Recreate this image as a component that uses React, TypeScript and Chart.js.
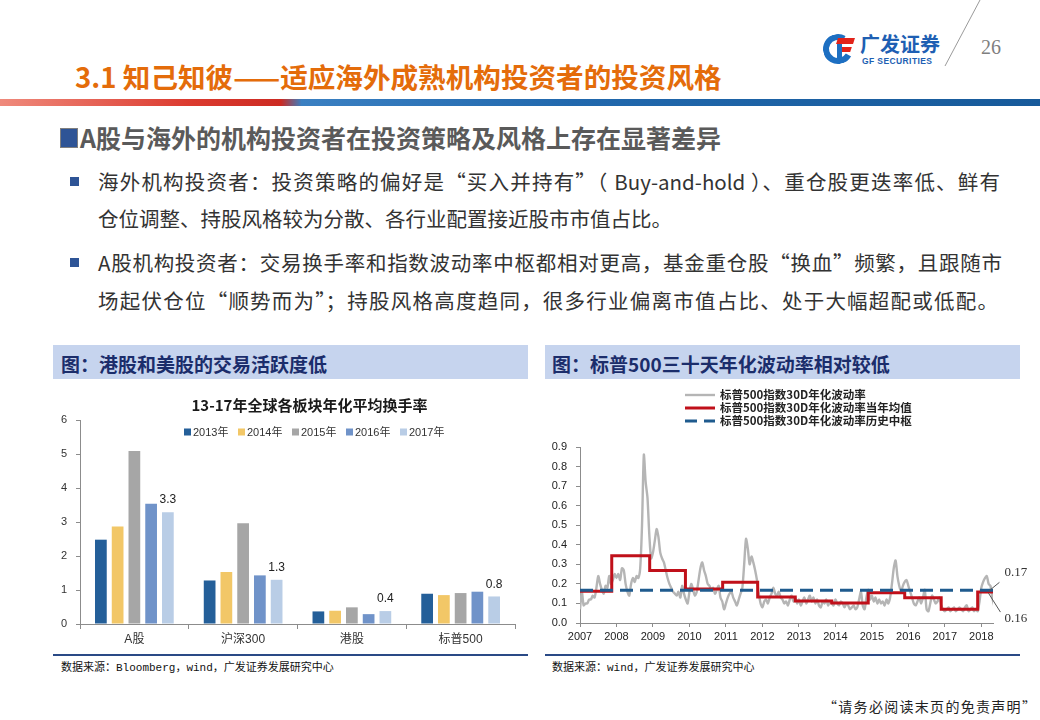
import React, { useEffect, useRef } from "react";
import { Chart, registerables } from "chart.js";

Chart.register(...registerables);

// ---------- Left chart data ----------
const turnoverTitle = "13-17年全球各板块年化平均换手率";
const turnoverCategories = ["A股", "沪深300", "港股", "标普500"];
const turnoverYears = ["2013年", "2014年", "2015年", "2016年", "2017年"];
const turnover2013 = [2.48, 1.28, 0.37, 0.89];
const turnover2014 = [2.87, 1.53, 0.39, 0.85];
const turnover2015 = [5.09, 2.96, 0.49, 0.91];
const turnover2016 = [3.54, 1.43, 0.29, 0.95];
const turnover2017 = [3.29, 1.3, 0.38, 0.81];
const turnoverTicks = [0, 1, 2, 3, 4, 5, 6];

// ---------- Right chart data ----------
const volLabels = [
  "标普500指数30D年化波动率",
  "标普500指数30D年化波动率当年均值",
  "标普500指数30D年化波动率历史中枢",
];
const volStartYear = 2007;
const volStepYears = 0.05;
const vol2007 = [0.07, 0.16, 0.09, 0.1, 0.1, 0.12, 0.12, 0.14, 0.13, 0.18, 0.24, 0.2, 0.17, 0.15, 0.19, 0.18, 0.24, 0.2, 0.22, 0.25];
const vol2008 = [0.23, 0.25, 0.22, 0.28, 0.27, 0.2, 0.16, 0.14, 0.2, 0.23, 0.21, 0.24, 0.23, 0.28, 0.5, 0.86, 0.72, 0.64, 0.45, 0.33];
const vol2009 = [0.36, 0.42, 0.48, 0.44, 0.36, 0.33, 0.31, 0.27, 0.23, 0.2, 0.18, 0.16, 0.15, 0.14, 0.16, 0.13, 0.19, 0.15, 0.12, 0.1];
const vol2010 = [0.16, 0.2, 0.17, 0.14, 0.16, 0.22, 0.28, 0.31, 0.27, 0.24, 0.2, 0.19, 0.17, 0.18, 0.15, 0.17, 0.19, 0.13, 0.11, 0.07];
const vol2011 = [0.1, 0.13, 0.15, 0.16, 0.13, 0.11, 0.09, 0.12, 0.15, 0.18, 0.3, 0.43, 0.38, 0.3, 0.34, 0.31, 0.27, 0.22, 0.15, 0.1];
const vol2012 = [0.08, 0.11, 0.12, 0.1, 0.13, 0.15, 0.18, 0.15, 0.14, 0.16, 0.13, 0.12, 0.1, 0.11, 0.09, 0.12, 0.14, 0.11, 0.13, 0.1];
const vol2013 = [0.12, 0.09, 0.11, 0.13, 0.1, 0.12, 0.14, 0.11, 0.13, 0.1, 0.12, 0.09, 0.08, 0.11, 0.1, 0.12, 0.09, 0.11, 0.1, 0.09];
const vol2014 = [0.12, 0.1, 0.09, 0.11, 0.1, 0.08, 0.1, 0.09, 0.07, 0.08, 0.09, 0.07, 0.08, 0.12, 0.16, 0.09, 0.07, 0.13, 0.17, 0.12];
const vol2015 = [0.14, 0.11, 0.13, 0.1, 0.12, 0.1, 0.11, 0.09, 0.12, 0.1, 0.13, 0.2, 0.28, 0.32, 0.24, 0.19, 0.16, 0.19, 0.21, 0.22];
const vol2016 = [0.19, 0.16, 0.13, 0.1, 0.09, 0.11, 0.13, 0.1, 0.13, 0.17, 0.07, 0.06, 0.1, 0.14, 0.12, 0.1, 0.11, 0.13, 0.09, 0.07];
const vol2017 = [0.06, 0.07, 0.08, 0.06, 0.07, 0.08, 0.06, 0.07, 0.08, 0.07, 0.06, 0.08, 0.09, 0.06, 0.07, 0.08, 0.06, 0.07, 0.06, 0.11];
const vol2018 = [0.18, 0.21, 0.23, 0.24, 0.2, 0.19, 0.13, 0.09];

const yearMeanStarts = [2007.0, 2007.87, 2008.91, 2009.89, 2010.91, 2011.87, 2012.9, 2013.9, 2014.9, 2015.9, 2016.9, 2017.9, 2018.32];
const yearMeanValues = [0.162, 0.344, 0.269, 0.174, 0.208, 0.133, 0.112, 0.102, 0.155, 0.129, 0.07, 0.158, 0.158];
const historicalCenter = 0.167;
const volXMin = 2007;
const volXMax = 2018.32;
const volXTicks = [2007, 2008, 2009, 2010, 2011, 2012, 2013, 2014, 2015, 2016, 2017, 2018];
const volYTicks = [0, 0.1, 0.2, 0.3, 0.4, 0.5, 0.6, 0.7, 0.8, 0.9];

const SANS = "'Liberation Sans', Arial, 'Noto Sans CJK SC', sans-serif";
const CJK = "'Noto Sans CJK SC', 'Liberation Sans', sans-serif";

const barColors = ["#245f99", "#f2c767", "#a6a6a6", "#7093c9", "#b9cde6"];

const turnoverOverlay = {
  id: "turnoverOverlay",
  afterDraw(chart: any) {
    const { ctx } = chart;
    ctx.save();
    ctx.fillStyle = "#1a1a1a";
    ctx.font = `bold 15px ${CJK}`;
    ctx.textAlign = "center";
    ctx.textBaseline = "middle";
    ctx.fillText(turnoverTitle, chart.width / 2 + 19, 21);
    ctx.font = `11px ${SANS}`;
    ctx.textAlign = "left";
    chart.data.datasets.forEach((ds: any, i: number) => {
      const x = 131 + i * 54;
      const y = 48;
      ctx.fillStyle = ds.backgroundColor;
      ctx.fillRect(x, y - 3.5, 7, 7);
      ctx.fillStyle = "#333";
      ctx.fillText(ds.label, x + 9, y + 0.5);
    });
    const last = chart.data.datasets.length - 1;
    const meta = chart.getDatasetMeta(last);
    ctx.font = `12px ${SANS}`;
    ctx.textAlign = "center";
    ctx.fillStyle = "#222";
    meta.data.forEach((el: any, j: number) => {
      ctx.fillText(Number(chart.data.datasets[last].data[j]).toFixed(1), el.x, el.y - 12);
    });
    ctx.restore();
  },
};

const volOverlay = {
  id: "volOverlay",
  afterDraw(chart: any) {
    const { ctx } = chart;
    const xs = chart.scales.x;
    const ys = chart.scales.y;
    ctx.save();
    // legend
    const order = [2, 1, 0];
    order.forEach((dsIndex, row) => {
      const ds = chart.data.datasets[dsIndex];
      const y = 11 + row * 13;
      ctx.beginPath();
      ctx.strokeStyle = ds.borderColor;
      ctx.lineWidth = ds.borderWidth;
      ctx.setLineDash(ds.borderDash ? [12, 7] : []);
      ctx.moveTo(140, y);
      ctx.lineTo(170, y);
      ctx.stroke();
      ctx.setLineDash([]);
      ctx.fillStyle = "#222";
      ctx.font = `bold 11.5px ${CJK}`;
      ctx.textAlign = "left";
      ctx.textBaseline = "middle";
      ctx.fillText(ds.label, 175, y);
    });
    // annotations
    const px = xs.getPixelForValue(2018.25);
    const pyTop = ys.getPixelForValue(historicalCenter);
    const pyBot = ys.getPixelForValue(yearMeanValues[yearMeanValues.length - 1]);
    ctx.strokeStyle = "#555";
    ctx.lineWidth = 1;
    ctx.beginPath();
    ctx.moveTo(px - 2, pyTop + 1);
    ctx.lineTo(px + 9, pyTop - 8);
    ctx.moveTo(px - 2, pyBot + 1);
    ctx.lineTo(px + 10, pyBot + 20);
    ctx.stroke();
    ctx.fillStyle = "#333";
    ctx.font = "13px 'Liberation Serif', 'Times New Roman', serif";
    ctx.textAlign = "left";
    ctx.textBaseline = "middle";
    ctx.fillText(historicalCenter.toFixed(2), px + 14, pyTop - 18);
    ctx.fillText(yearMeanValues[yearMeanValues.length - 1].toFixed(2), px + 14, pyBot + 26);
    ctx.restore();
  },
};

function TurnoverChart() {
  const ref = useRef<HTMLCanvasElement>(null);
  useEffect(() => {
    const series = [turnover2013, turnover2014, turnover2015, turnover2016, turnover2017];
    const chart = new Chart(ref.current as HTMLCanvasElement, {
      type: "bar",
      data: {
        labels: turnoverCategories,
        datasets: series.map((d, i) => ({
          label: turnoverYears[i],
          data: d,
          backgroundColor: barColors[i],
          categoryPercentage: 0.77,
          barPercentage: 0.7,
        })),
      },
      options: {
        responsive: false,
        animation: false,
        layout: { padding: { top: 36, right: 13, left: 0, bottom: 0 } },
        plugins: { legend: { display: false }, tooltip: { enabled: false }, title: { display: false } },
        scales: {
          x: {
            grid: { display: true, drawOnChartArea: false, drawTicks: true, tickLength: 5, color: "#8c8c8c", offset: true },
            border: { color: "#8c8c8c" },
            ticks: { color: "#333", font: { size: 12, family: SANS }, padding: 3 },
            afterFit: (s: any) => {
              s.height = 28;
            },
          },
          y: {
            min: 0,
            max: 6,
            afterBuildTicks: (s: any) => {
              s.ticks = turnoverTicks.map((v) => ({ value: v }));
            },
            ticks: { color: "#333", font: { size: 11, family: SANS }, padding: 9 },
            grid: { drawOnChartArea: false, drawTicks: true, tickLength: 4, color: "#8c8c8c" },
            border: { color: "#8c8c8c" },
            afterFit: (s: any) => {
              s.width = 27;
            },
          },
        },
      } as any,
      plugins: [turnoverOverlay],
    });
    return () => chart.destroy();
  }, []);
  return <canvas ref={ref} width={475} height={268} style={{ display: "block" }} />;
}

function VolChart() {
  const ref = useRef<HTMLCanvasElement>(null);
  useEffect(() => {
    const volValues = [
      ...vol2007, ...vol2008, ...vol2009, ...vol2010, ...vol2011, ...vol2012,
      ...vol2013, ...vol2014, ...vol2015, ...vol2016, ...vol2017, ...vol2018,
    ];
    const volPoints = volValues.map((v, i) => ({ x: volStartYear + i * volStepYears, y: v }));
    const meanPoints = yearMeanStarts.map((x, i) => ({ x, y: yearMeanValues[i] }));
    const centerPoints = [
      { x: volXMin, y: historicalCenter },
      { x: volXMax, y: historicalCenter },
    ];
    const chart = new Chart(ref.current as HTMLCanvasElement, {
      type: "line",
      data: {
        datasets: [
          {
            label: volLabels[2],
            data: centerPoints,
            borderColor: "#1f5b8e",
            borderWidth: 3,
            borderDash: [13, 7],
            pointRadius: 0,
            order: 0,
          },
          {
            label: volLabels[1],
            data: meanPoints,
            borderColor: "#c0101a",
            borderWidth: 3,
            stepped: "before",
            pointRadius: 0,
            order: 1,
          },
          {
            label: volLabels[0],
            data: volPoints,
            borderColor: "#b5b5b5",
            borderWidth: 2.4,
            tension: 0.25,
            pointRadius: 0,
            order: 2,
          },
        ],
      },
      options: {
        responsive: false,
        animation: false,
        layout: { padding: { top: 63, right: 42, left: 0, bottom: 0 } },
        plugins: { legend: { display: false }, tooltip: { enabled: false } },
        scales: {
          x: {
            type: "linear",
            min: volXMin,
            max: volXMax,
            afterBuildTicks: (s: any) => {
              s.ticks = volXTicks.map((v) => ({ value: v }));
            },
            ticks: { color: "#222", font: { size: 11, family: SANS }, padding: 3, callback: (v: any) => String(v) },
            grid: { display: true, drawOnChartArea: false, drawTicks: true, tickLength: 4, color: "#8c8c8c" },
            border: { color: "#8c8c8c" },
            afterFit: (s: any) => {
              s.height = 29;
            },
          },
          y: {
            min: 0,
            max: 0.9,
            afterBuildTicks: (s: any) => {
              s.ticks = volYTicks.map((v) => ({ value: v }));
            },
            ticks: { color: "#222", font: { size: 11, family: SANS }, padding: 9, callback: (v: any) => Number(v).toFixed(1) },
            grid: { drawOnChartArea: false, drawTicks: true, tickLength: 4, color: "#8c8c8c" },
            border: { color: "#8c8c8c" },
            afterFit: (s: any) => {
              s.width = 35;
            },
          },
        },
      } as any,
      plugins: [volOverlay],
    });
    return () => chart.destroy();
  }, []);
  return <canvas ref={ref} width={490} height={268} style={{ display: "block" }} />;
}

const abs = (left: number, top: number, extra: React.CSSProperties = {}): React.CSSProperties => ({
  position: "absolute",
  left,
  top,
  ...extra,
});

function TextLine({ left, cy, size, text, color = "#333", bold = false, width, family = CJK, spacing = 0 }: any) {
  const h = Math.round(size * 1.5);
  return (
    <div
      style={abs(left, cy - h / 2, {
        height: h,
        lineHeight: `${h}px`,
        fontSize: size,
        fontWeight: bold ? 700 : 400,
        color,
        fontFamily: family,
        whiteSpace: "nowrap",
        letterSpacing: spacing,
        width: width,
        textAlignLast: width ? "justify" : undefined,
        textAlign: width ? "justify" : undefined,
      } as any)}
    >
      {text}
    </div>
  );
}

export default function App() {
  return (
    <div style={{ position: "absolute", left: 0, top: 0, width: 1040, height: 720, background: "#fff", overflow: "hidden", fontFamily: CJK }}>
      {/* header diagonal line */}
      <svg style={abs(0, 0)} width={1040} height={110}>
        <line x1={980} y1={0} x2={945} y2={66} stroke="#9a9a9a" strokeWidth={1} />
      </svg>
      {/* logo */}
      <div style={abs(823, 34, { width: 30, height: 30, borderRadius: "50%", border: "6px solid #1d6fc2", borderRightColor: "transparent", boxSizing: "border-box", transform: "rotate(-15deg)" })} />
      <div style={abs(837, 38, { width: 17, height: 6, background: "#e2231a", transform: "skewX(-18deg)" })} />
      <div style={abs(838, 47, { width: 13, height: 5, background: "#e2231a", transform: "skewX(-18deg)" })} />
      <div style={abs(837, 44, { width: 5, height: 18, background: "#1d6fc2" })} />
      <TextLine left={860} cy={44} size={20} text="广发证券" color="#1e5fb3" bold />
      <TextLine left={862} cy={61} size={8.5} text="GF SECURITIES" color="#1e5fb3" bold family={SANS} spacing={0.4} />
      <div style={abs(981, 37, { fontSize: 20, lineHeight: "20px", color: "#7f7f7f", fontFamily: "'Liberation Serif', serif" })}>26</div>

      {/* title */}
      <TextLine left={75} cy={76} size={27.6} text="3.1 知己知彼——适应海外成熟机构投资者的投资风格" color="#e46c0a" bold />
      <div
        style={abs(0, 99, {
          width: 1040,
          height: 7,
          background: "linear-gradient(90deg, #ef8a7c 0%, #dc3b30 18%, #cc2a22 27%, #3a80c2 29%, #2168ad 55%, #175a9a 100%)",
        })}
      />

      {/* subtitle */}
      <div style={abs(60, 128, { width: 16, height: 18, background: "#2e5496", border: "1px solid #7f7f7f" })} />
      <TextLine left={80} cy={137} size={25} text="A股与海外的机构投资者在投资策略及风格上存在显著差异" color="#5a5a5a" bold />

      {/* bullets */}
      <div style={abs(70, 177, { width: 9, height: 9, background: "#2e5496" })} />
      <TextLine left={98} cy={181} size={20.5} width={902} text="海外机构投资者：投资策略的偏好是“买入并持有”（ Buy-and-hold ）、重仓股更迭率低、鲜有" />
      <TextLine left={98} cy={218} size={20.5} text="仓位调整、持股风格较为分散、各行业配置接近股市市值占比。" />
      <div style={abs(70, 258, { width: 9, height: 9, background: "#2e5496" })} />
      <TextLine left={98} cy={262} size={20.5} width={904} text="A股机构投资者：交易换手率和指数波动率中枢都相对更高，基金重仓股“换血”频繁，且跟随市" />
      <TextLine left={98} cy={300} size={20.5} width={900} text="场起伏仓位“顺势而为”；持股风格高度趋同，很多行业偏离市值占比、处于大幅超配或低配。" />

      {/* left panel */}
      <div style={abs(53, 345, { width: 475, height: 34, background: "#c6d4ee" })} />
      <TextLine left={61} cy={363} size={19} text="图：港股和美股的交易活跃度低" color="#1b2d6b" bold />
      <div style={abs(53, 384, { width: 475, height: 268 })}>
        <TurnoverChart />
      </div>
      <div style={abs(53, 654, { width: 475, height: 2, background: "#2a4a86" })} />
      <TextLine left={61} cy={668} size={11} text="数据来源：Bloomberg，wind，广发证券发展研究中心" color="#111" family="'Liberation Mono', 'Noto Sans CJK SC', monospace" />

      {/* right panel */}
      <div style={abs(545, 345, { width: 475, height: 34, background: "#c6d4ee" })} />
      <TextLine left={552} cy={363} size={19} text="图：标普500三十天年化波动率相对较低" color="#1b2d6b" bold />
      <div style={abs(545, 384, { width: 490, height: 268 })}>
        <VolChart />
      </div>
      <div style={abs(545, 654, { width: 475, height: 2, background: "#2a4a86" })} />
      <TextLine left={552} cy={668} size={11} text="数据来源：wind，广发证券发展研究中心" color="#111" family="'Liberation Mono', 'Noto Sans CJK SC', monospace" />

      {/* footer */}
      <TextLine left={823} cy={706} size={14} text="“请务必阅读末页的免责声明”" color="#222" spacing={1.3} />
    </div>
  );
}
